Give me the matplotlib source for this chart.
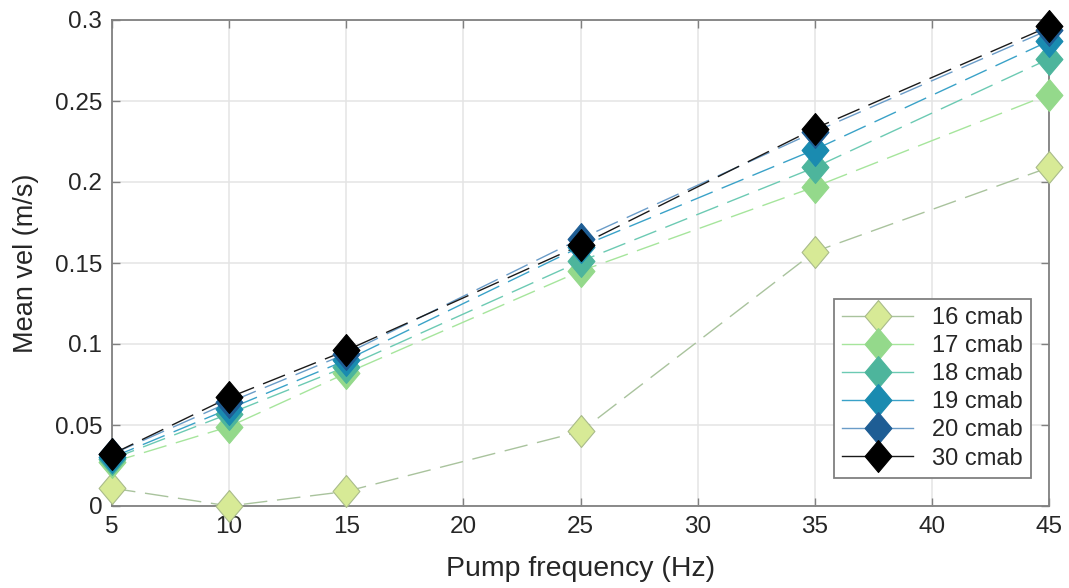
import matplotlib
matplotlib.use("Agg")
import matplotlib.pyplot as plt
from matplotlib.lines import Line2D

# Pump frequency (Hz) and mean velocity (m/s) at each height above bed
freq = [5, 10, 15, 25, 35, 45]
v16 = [0.011, 0.000, 0.009, 0.046, 0.157, 0.209]
v17 = [0.027, 0.049, 0.082, 0.145, 0.197, 0.254]
v18 = [0.029, 0.057, 0.086, 0.151, 0.209, 0.276]
v19 = [0.030, 0.060, 0.090, 0.160, 0.220, 0.287]
v20 = [0.032, 0.064, 0.094, 0.165, 0.231, 0.294]
v30 = [0.032, 0.067, 0.096, 0.161, 0.233, 0.296]

labels = ["16 cmab", "17 cmab", "18 cmab", "19 cmab", "20 cmab", "30 cmab"]
series = [v16, v17, v18, v19, v20, v30]

face_colors = ["#d7ea96", "#94d98b", "#4db59c", "#1a8bb0", "#1e5d94", "#000000"]
edge_colors = ["#a9bb8a", "#94d98b", "#4db59c", "#1a8bb0", "#1e5d94", "#000000"]
line_colors = ["#a9c39d", "#a6e59c", "#6ccab3", "#3aa2c8", "#6a9cc8", "#1a1a1a"]

yticks = [0, 0.05, 0.1, 0.15, 0.2, 0.25, 0.3]
ytick_labels = ["0", "0.05", "0.1", "0.15", "0.2", "0.25", "0.3"]
xticks = [5, 10, 15, 20, 25, 30, 35, 40, 45]

plt.rcParams["font.family"] = ["Liberation Sans", "DejaVu Sans"]
plt.rcParams["lines.scale_dashes"] = False

text_col = "#262626"
axis_col = "#808080"

# diamond slightly taller than wide
diamond = [(0, 1), (0.84, 0), (0, -1), (-0.84, 0), (0, 1)]

fig = plt.figure(figsize=(10.69, 5.88), dpi=100)
ax = fig.add_axes([112 / 1069, 1 - 506 / 588, 937 / 1069, 486 / 588])

for vals, fc, ec, lc in zip(series, face_colors, edge_colors, line_colors):
    ax.plot(freq, vals, color=lc, lw=1.0, dashes=(17, 7), zorder=3, clip_on=False)
    ax.plot(freq, vals, ls="none", marker=diamond, ms=23, mfc=fc, mec=ec,
            mew=0.8, zorder=4, clip_on=False)

ax.set_xlim(5, 45)
ax.set_ylim(0, 0.3)
ax.set_xticks(xticks)
ax.set_yticks(yticks)
ax.set_yticklabels(ytick_labels)

ax.grid(True, color="#e4e4e4", lw=1.1)
ax.set_axisbelow(True)

for sp in ax.spines.values():
    sp.set_color(axis_col)
    sp.set_linewidth(1.3)
    sp.set_zorder(2)

ax.tick_params(axis="both", which="both", direction="in", length=6, width=1,
               color=axis_col, top=True, right=True, labelsize=17.5,
               labelcolor=text_col)
ax.tick_params(axis="x", pad=7)
ax.tick_params(axis="y", pad=7)

ax.set_xlabel("Pump frequency (Hz)", fontsize=20.5, color=text_col, labelpad=13)
ax.set_ylabel("Mean vel (m/s)", fontsize=19.5, color=text_col, labelpad=11)

handles = [Line2D([0], [0], color=lc, lw=1.0, marker=diamond, ms=23,
                  mfc=fc, mec=ec, mew=0.8)
           for fc, ec, lc in zip(face_colors, edge_colors, line_colors)]
leg = ax.legend(handles, labels, loc="lower right",
                bbox_to_anchor=(0.981, 0.058), borderaxespad=0,
                fontsize=17, labelspacing=0.26, handlelength=3.0,
                handletextpad=0.8, borderpad=0.35, fancybox=False,
                framealpha=1, edgecolor=axis_col)
leg.get_frame().set_linewidth(1.3)
for t in leg.get_texts():
    t.set_color(text_col)
leg.set_zorder(10)

fig.savefig("out.png", dpi=100)
